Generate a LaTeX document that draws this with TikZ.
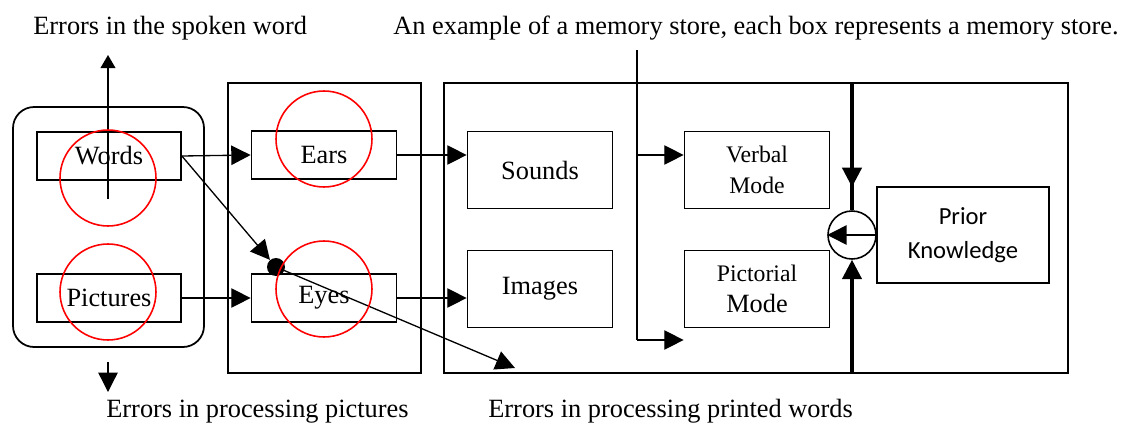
\documentclass[tikz,border=0pt]{standalone}
\usepackage{fontspec}
\setmainfont{Liberation Serif}
\newfontfamily\calibfont{Carlito}
\usetikzlibrary{arrows.meta,positioning}

\begin{document}
\begin{tikzpicture}[x=0.02cm, y=-0.02cm, every node/.style={font=\rmfamily\fontsize{15}{18}\selectfont},
  bx/.style={draw, line width=1pt, minimum width=2.9cm, minimum height=0.96cm, inner sep=0pt},
  ring/.style={draw=red, line width=0.9pt, circle, minimum size=1.92cm, inner sep=0pt},
  arr/.style={-{Triangle[length=11pt,width=11pt]}, line width=0.75pt},
  note/.style={anchor=base west, inner sep=0pt}]
\useasboundingbox (0,0) rectangle (1133,433);
% Stores
\draw[line width=1pt, rounded corners=12pt] (13,107) rectangle (204,347);
\draw[line width=1.1pt] (228,83) rectangle (421,373);
\draw[line width=1pt] (444,83) rectangle (1068,373);
% Boxes
\node[bx, minimum width=2.88cm] (words) at (109,156) {Words};
\node[bx, minimum width=2.88cm] (pictures) at (109,298) {Pictures};
\node[bx] (ears) at (324,155) {Ears};
\node[bx] (eyes) at (324,298) {Eyes};
\node[bx, minimum height=1.54cm] (sounds) at (540,170) {Sounds};
\node[bx, minimum height=1.54cm] (images) at (540,289) {Images};
\node[bx, align=center, minimum height=1.54cm, font=\rmfamily\fontsize{13.5}{17.5}\selectfont] (verbal) at (757,170) {Verbal\\Mode};
\node[bx, align=center, minimum height=1.54cm, font=\rmfamily\fontsize{13.5}{17.5}\selectfont] (pictorial) at (757,289) {Pictorial\\{\fontsize{15}{17.5}\selectfont Mode}};
\node[bx, align=center, minimum width=3.44cm, minimum height=1.92cm, font=\calibfont\fontsize{14}{19}\selectfont] (prior) at (963,235) {Prior\\Knowledge};
\node[draw, circle, line width=0.9pt, minimum size=0.96cm, inner sep=0pt] (mix) at (852,235) {};
\node[circle, fill, minimum size=0.36cm, inner sep=0pt] (dot) at (276,267) {};
% Labels
\node[note] (spoken) at (33,34) {Errors in the spoken word};
\node[note] (example) at (393,34) {An example of a memory store, each box represents a memory store.};
\node[note] (errpic) at (106,417) {Errors in processing pictures};
\node[note] (errprint) at (488,417) {Errors in processing printed words};
% Coordinates
\coordinate (wup) at (108,199);
\coordinate (wtip) at (108,55);
\coordinate (pdown) at (108,362);
\coordinate (pend) at (108,392);
\coordinate (printed) at (515,368);
\coordinate (stop) at (637,50);
\coordinate (sv) at (637,155);
\coordinate (sbot) at (637,340);
\coordinate (ptop) at (852,83);
\coordinate (pmid) at (852,187);
\coordinate (pbot) at (852,373);
% Connectors
\draw[arr] (words.east) -- (ears.west);
\draw[arr] (pictures.east) -- (eyes.west);
\draw[arr] (ears.east) -- (ears.east -| sounds.west);
\draw[arr] (eyes.east) -- (eyes.east -| images.west);
\draw[arr] (words.east) -- (dot);
\draw[arr] (dot.center) -- (printed);
\draw[-{Triangle[length=7.5pt,width=8.5pt]}, line width=0.75pt] (wup) -- (wtip);
\draw[arr] (pdown) -- (pend);
\draw[line width=0.75pt] (stop) -- (sbot);
\draw[arr] (sv) -- (sv -| verbal.west);
\draw[arr] (sbot) -- (sbot -| pictorial.west);
\draw[line width=1.8pt] (ptop) -- (mix.north);
\draw[arr, line width=1.8pt] (ptop) -- (pmid);
\draw[arr, line width=1.8pt] (pbot) -- (mix.south);
\draw[arr] (prior.west) -- (mix.west);
% Red circles
\node[ring] (rwords) at (108,178) {};
\node[ring] (rpictures) at (108,292) {};
\node[ring] (rears) at (324,139) {};
\node[ring] (reyes) at (324,289) {};
\end{tikzpicture}
\end{document}
